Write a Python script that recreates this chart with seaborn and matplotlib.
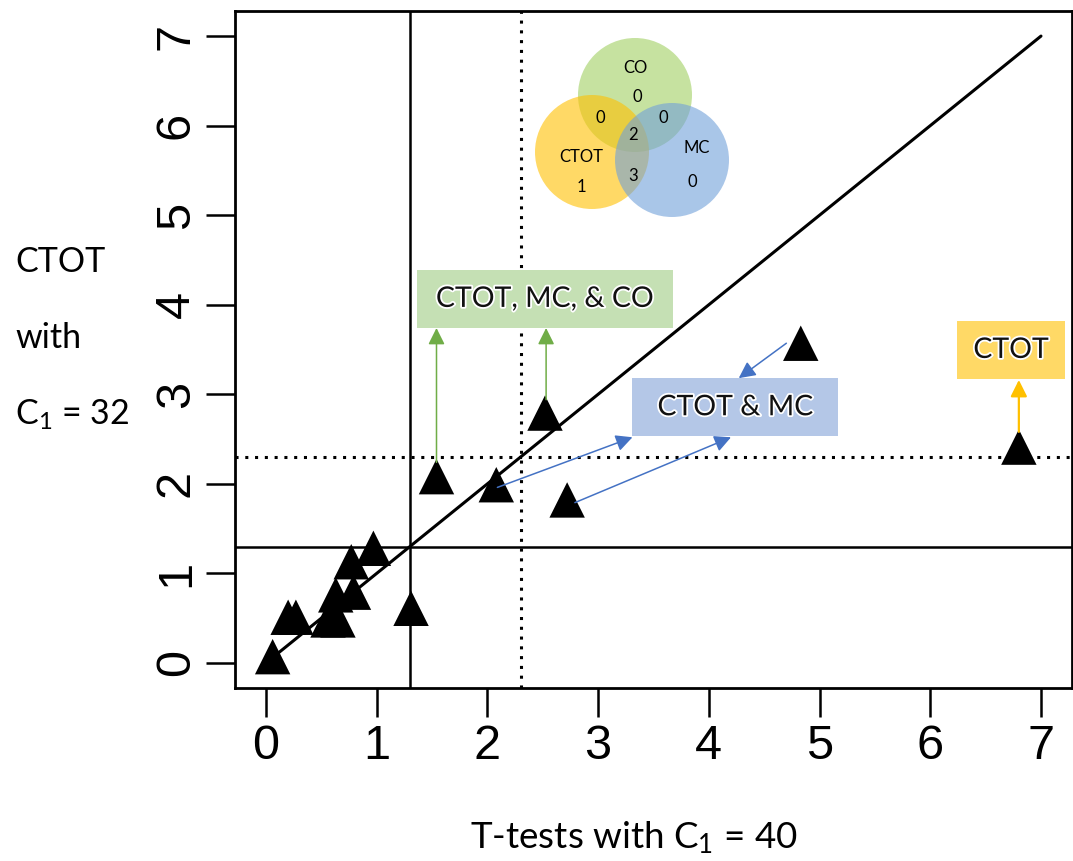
import numpy as np
import pandas as pd
import matplotlib
matplotlib.use("Agg")
import matplotlib.pyplot as plt
import matplotlib.patheffects as pe
from matplotlib.patches import Rectangle, Circle, FancyArrowPatch
import seaborn as sns

# ---- data ----
ttest_x = [0.06, 0.20, 0.27, 0.56, 0.65, 0.63, 0.79, 0.77, 0.97, 1.31,
           1.54, 2.08, 2.52, 2.72, 4.83, 6.80]
ctot_y = [0.07, 0.51, 0.51, 0.48, 0.48, 0.76, 0.79, 1.13, 1.28, 0.61,
          2.08, 1.99, 2.79, 1.82, 3.57, 2.41]
tick_vals = [0, 1, 2, 3, 4, 5, 6, 7]
solid_thr = 1.3
dotted_thr = 2.3
diag = [0, 7]

venn_sets = ["CO", "CTOT", "MC"]
venn_only = {"CO": 0, "CTOT": 1, "MC": 0}
venn_pairs = {"CO&CTOT": 0, "CO&MC": 0, "CTOT&MC": 3}
venn_all = 2

df = pd.DataFrame({"x": ttest_x, "y": ctot_y})

sns.set_theme(style="white")
plt.rcParams["font.family"] = ["Liberation Sans", "DejaVu Sans"]
plt.rcParams["mathtext.fontset"] = "custom"
plt.rcParams["mathtext.rm"] = "Lato"
plt.rcParams["mathtext.it"] = "Lato:italic"
plt.rcParams["text.color"] = "black"
plt.rcParams["xtick.color"] = "black"
plt.rcParams["ytick.color"] = "black"

W, H = 1073, 861
fig = plt.figure(figsize=(W / 100, H / 100), dpi=100)
ax = fig.add_axes([235 / W, 1 - 688 / H, (1072 - 235) / W, (688 - 11) / H])

sns.scatterplot(data=df, x="x", y="y", marker="^", s=650, color="black",
                edgecolor="none", linewidth=0, ax=ax, zorder=5)

ax.plot(diag, diag, color="black", lw=2.2, zorder=3)
ax.axvline(solid_thr, color="black", lw=1.8, zorder=2)
ax.axhline(solid_thr, color="black", lw=1.8, zorder=2)
ax.axvline(dotted_thr, color="black", lw=2.2, ls=(0, (1, 2.2)), zorder=2)
ax.axhline(dotted_thr, color="black", lw=2.2, ls=(0, (1, 2.2)), zorder=2)

ax.set_xlim(-0.28, 7.28)
ax.set_ylim(-0.28, 7.28)
ax.set_xticks(tick_vals)
ax.set_yticks(tick_vals)
ax.set_xticklabels([str(v) for v in tick_vals], fontsize=35, color="black")
ax.set_yticklabels([str(v) for v in tick_vals], fontsize=35, rotation=90, va="center",
                   color="black")
ax.tick_params(axis="both", direction="out", length=21, width=1.8, color="black",
               labelcolor="black", bottom=True, left=True, top=False, right=False)
ax.tick_params(axis="x", pad=5)
ax.tick_params(axis="y", pad=5)
ax.set_xlabel("")
ax.set_ylabel("")
for s in ax.spines.values():
    s.set_visible(True)
    s.set_color("black")
    s.set_linewidth(2)

# ---- annotation boxes ----
glow = [pe.withSimplePatchShadow(offset=(1.0, -1.0), shadow_rgbFace="#9fb6cc", alpha=0.5),
        pe.withStroke(linewidth=2.6, foreground="white")]
boxes = [
    ("CTOT, MC, & CO", 1.36, 3.74, 2.32, 0.65, "#C5E0B4"),
    ("CTOT & MC", 3.31, 2.53, 1.86, 0.65, "#B4C7E7"),
    ("CTOT", 6.24, 3.17, 0.98, 0.65, "#FFD966"),
]
for label, bx, by, bw, bh, col in boxes:
    ax.add_patch(Rectangle((bx, by), bw, bh, facecolor=col, edgecolor="none", zorder=6))
    ax.text(bx + bw / 2, by + bh / 2, label, ha="center", va="center",
            fontsize=20.5, family=["Lato", "DejaVu Sans"], color="#111111", zorder=7,
            path_effects=glow)

arrows = [
    ((1.54, 2.24), (1.54, 3.74), "#70AD47"),
    ((2.53, 2.94), (2.53, 3.74), "#70AD47"),
    ((2.09, 1.96), (3.31, 2.52), "#4472C4"),
    ((2.79, 1.79), (4.20, 2.52), "#4472C4"),
    ((4.70, 3.57), (4.27, 3.18), "#4472C4"),
    ((6.80, 2.58), (6.80, 3.16), "#FFC000"),
]
for (x0, y0), (x1, y1), col in arrows:
    lw = 1.6 if col == "#FFC000" else 1.1
    ax.add_patch(FancyArrowPatch((x0, y0), (x1, y1),
                                 arrowstyle="-|>,head_length=10,head_width=5",
                                 color=col, lw=lw, mutation_scale=1, zorder=6,
                                 shrinkA=0, shrinkB=0))

# ---- Venn inset ----
vax = fig.add_axes([520 / W, 1 - 220 / H, 220 / W, 190 / H])
vax.set_xlim(520, 740)
vax.set_ylim(220, 30)
vax.axis("off")
vax.patch.set_alpha(0)
circ = [((635, 95), "#A0CF61", 0.6), ((592, 152), "#FFC000", 0.6), ((672, 160), "#71A0D9", 0.6)]
for (cx, cy), col, a in circ:
    vax.add_patch(Circle((cx, cy), 57, facecolor=col, alpha=a, edgecolor="none"))
vfont = dict(ha="center", va="center", fontsize=12, family=["Lato", "DejaVu Sans"],
             color="black")
vax.text(635, 68, venn_sets[0], **vfont)
vax.text(637, 97, str(venn_only["CO"]), **vfont)
vax.text(600, 118, str(venn_pairs["CO&CTOT"]), **vfont)
vax.text(663, 118, str(venn_pairs["CO&MC"]), **vfont)
vax.text(633, 135, str(venn_all), **vfont)
vax.text(581, 157, venn_sets[1], **vfont)
vax.text(581, 187, str(venn_only["CTOT"]), **vfont)
vax.text(633, 176, str(venn_pairs["CTOT&MC"]), **vfont)
vax.text(697, 148, venn_sets[2], **vfont)
vax.text(692, 182, str(venn_only["MC"]), **vfont)

# ---- axis titles ----
lfont = dict(family=["Lato", "DejaVu Sans"], color="black")
fig.text(634 / W, 1 - 838 / H, r"T-tests with C$_{1}$ = 40", ha="center", va="center",
         fontsize=26.5, **lfont)
fig.text(15 / W, 1 - 262 / H, "CTOT", ha="left", va="center", fontsize=24.5, **lfont)
fig.text(15 / W, 1 - 338 / H, "with", ha="left", va="center", fontsize=24.5, **lfont)
fig.text(15 / W, 1 - 415 / H, r"C$_{1}$ = 32", ha="left", va="center", fontsize=24.5, **lfont)

fig.savefig("out.png", dpi=100, facecolor="white")
